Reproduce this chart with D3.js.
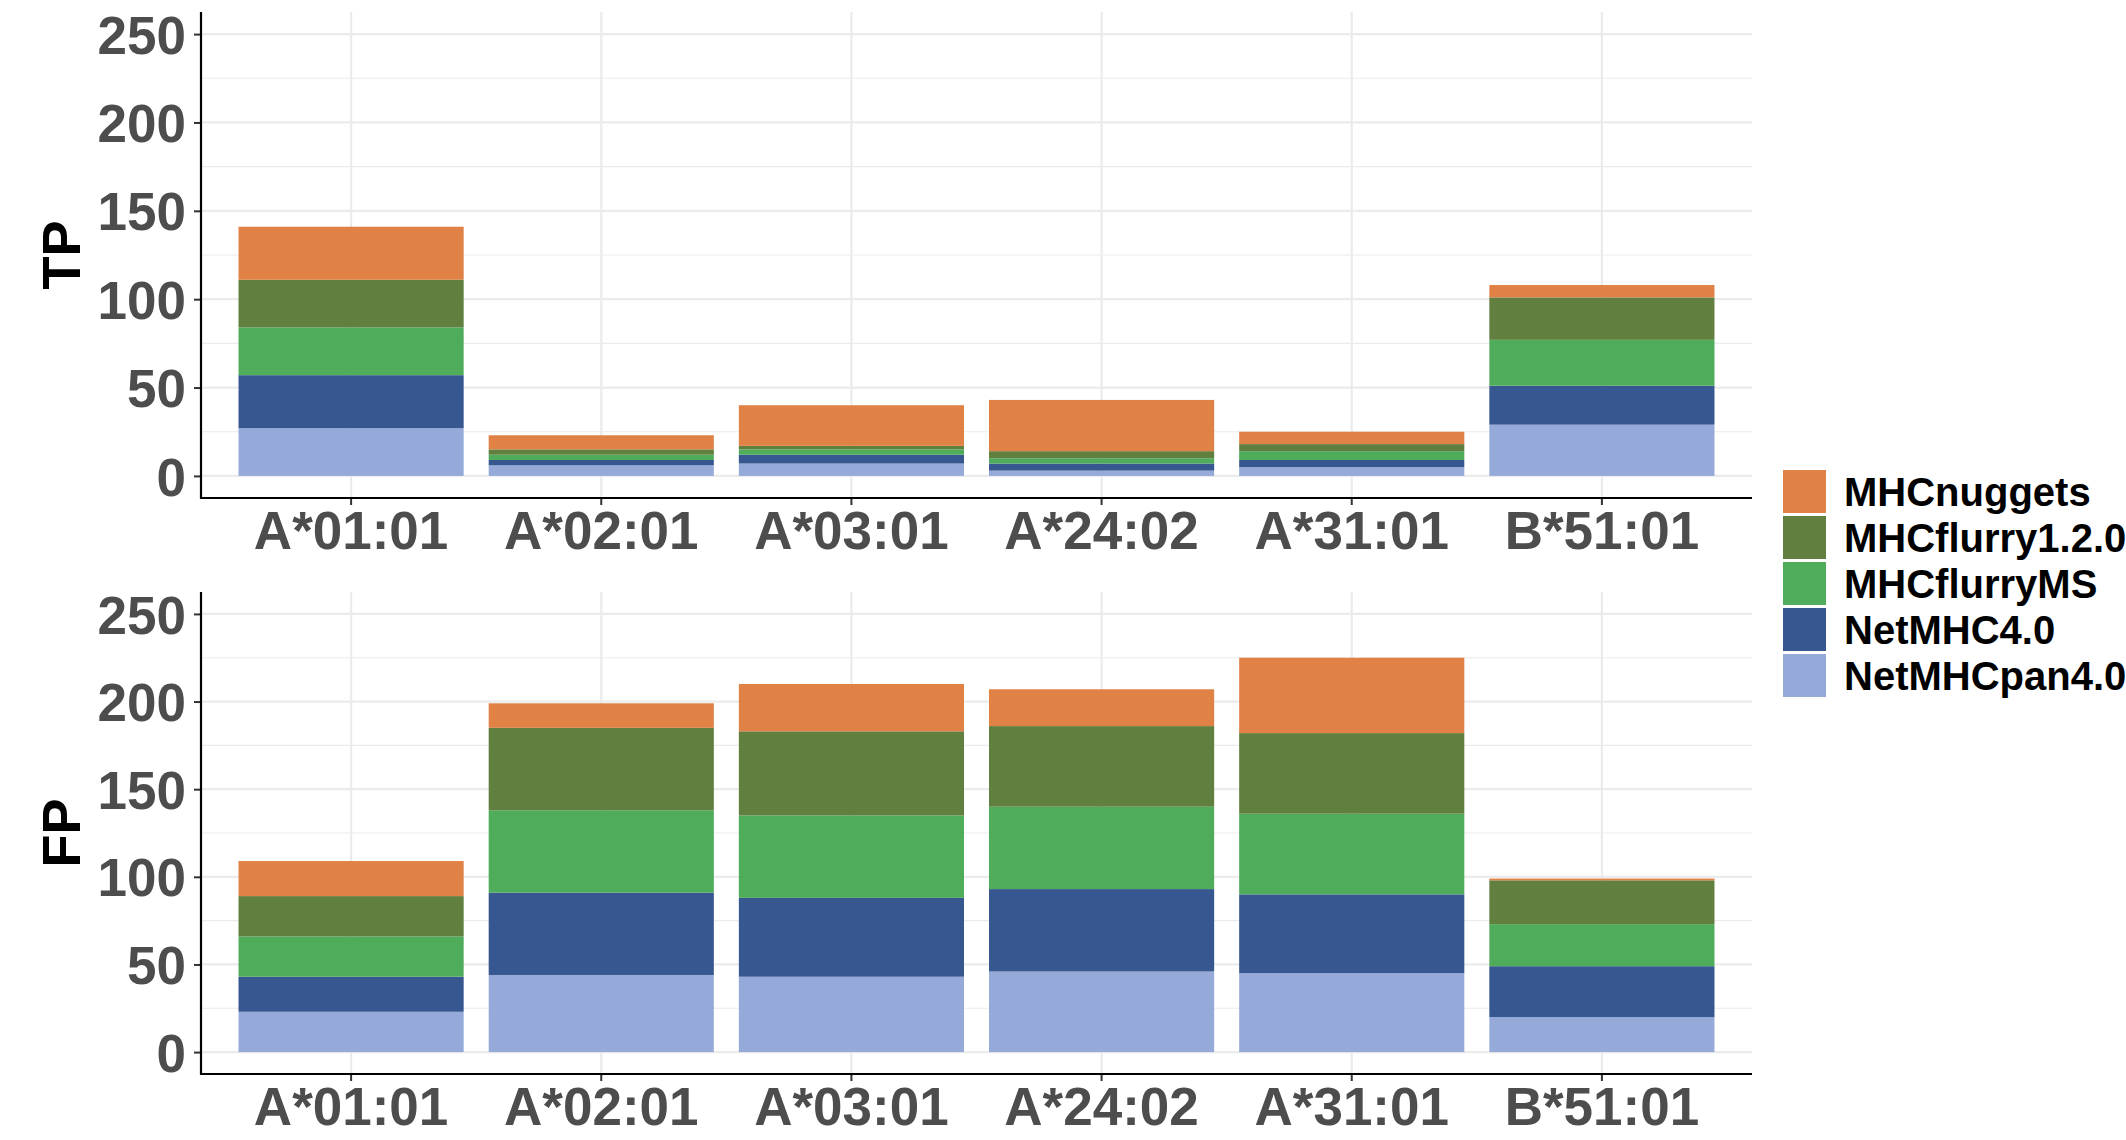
<!DOCTYPE html>
<html>
<head>
<meta charset="utf-8">
<script src="https://cdn.jsdelivr.net/npm/d3@7"></script>
<style>
  html, body { margin: 0; padding: 0; background: #fff; }
  svg { display: block; font-family: "Liberation Sans", Arial, sans-serif; font-weight: bold; }
</style>
</head>
<body>
<svg id="chart" width="2126" height="1140"></svg>
<script>
// alleles on the x axis
const alleles = ["A*01:01", "A*02:01", "A*03:01", "A*24:02", "A*31:01", "B*51:01"];

// methods, bottom of the stack first
const methods = ["NetMHCpan4.0", "NetMHC4.0", "MHCflurryMS", "MHCflurry1.2.0", "MHCnuggets"];
const methodColors = ["#95aad8", "#36578f", "#4fac5b", "#617f3f", "#e08146"];

// true positives per allele
const tpNetMHCpan = [27, 6, 7, 3, 5, 29];
const tpNetMHC = [30, 3, 5, 4, 4, 22];
const tpFlurryMS = [27, 3, 3, 3, 5, 26];
const tpFlurry12 = [27, 3, 2, 4, 4, 24];
const tpNuggets = [30, 8, 23, 29, 7, 7];

// false positives per allele
const fpNetMHCpan = [23, 44, 43, 46, 45, 20];
const fpNetMHC = [20, 47, 45, 47, 45, 29];
const fpFlurryMS = [23, 47, 47, 47, 46, 24];
const fpFlurry12 = [23, 47, 48, 46, 46, 25];
const fpNuggets = [20, 14, 27, 21, 43, 1];

const yTicks = [0, 50, 100, 150, 200, 250];
const yMinor = [25, 75, 125, 175, 225];

const svg = d3.select("#chart");
const color = d3.scaleOrdinal().domain(methods).range(methodColors);

const x = d3.scaleBand()
  .domain(alleles)
  .range([201, 1752])
  .paddingInner(0.1)
  .paddingOuter(0.15);

function buildRows(series) {
  return alleles.map((a, i) => {
    const row = { allele: a };
    methods.forEach((m, j) => { row[m] = series[j][i]; });
    return row;
  });
}

function drawPanel(rows, title, top, bottom) {
  const y = d3.scaleLinear().domain([-12.5, 262.5]).range([bottom, top]);
  const g = svg.append("g");

  // grid
  g.selectAll(".minor").data(yMinor).enter().append("line")
    .attr("x1", 201).attr("x2", 1752)
    .attr("y1", d => y(d)).attr("y2", d => y(d))
    .attr("stroke", "#ebebeb").attr("stroke-width", 1.2);
  g.selectAll(".major").data(yTicks).enter().append("line")
    .attr("x1", 201).attr("x2", 1752)
    .attr("y1", d => y(d)).attr("y2", d => y(d))
    .attr("stroke", "#ebebeb").attr("stroke-width", 2.2);
  g.selectAll(".vgrid").data(alleles).enter().append("line")
    .attr("x1", d => x(d) + x.bandwidth() / 2).attr("x2", d => x(d) + x.bandwidth() / 2)
    .attr("y1", top).attr("y2", bottom)
    .attr("stroke", "#ebebeb").attr("stroke-width", 2.2);

  // stacked bars
  const stacked = d3.stack().keys(methods)(rows);
  g.selectAll(".layer").data(stacked).enter().append("g")
    .attr("fill", d => color(d.key))
    .selectAll("rect").data(d => d).enter().append("rect")
    .attr("x", d => x(d.data.allele))
    .attr("width", x.bandwidth())
    .attr("y", d => y(d[1]))
    .attr("height", d => y(d[0]) - y(d[1]));

  // axes
  const yAxis = g.append("g").attr("transform", "translate(201,0)")
    .call(d3.axisLeft(y).tickValues(yTicks).tickSize(7).tickPadding(8));
  const xAxis = g.append("g").attr("transform", `translate(0,${bottom})`)
    .call(d3.axisBottom(x).tickSize(7).tickPadding(6));
  [yAxis, xAxis].forEach(ax => {
    ax.select(".domain").remove();
    ax.selectAll(".tick line").attr("stroke", "#333").attr("stroke-width", 2);
    ax.selectAll(".tick text")
      .attr("fill", "#4d4d4d")
      .style("font-size", "53px")
      .style("font-weight", "bold")
      .style("font-family", "'Liberation Sans', Arial, sans-serif");
  });
  yAxis.selectAll(".tick text").attr("dy", "0.36em");

  g.append("line").attr("x1", 201).attr("x2", 201).attr("y1", top).attr("y2", bottom + 1)
    .attr("stroke", "#000").attr("stroke-width", 2.2);
  g.append("line").attr("x1", 200).attr("x2", 1752).attr("y1", bottom).attr("y2", bottom)
    .attr("stroke", "#000").attr("stroke-width", 2.2);

  // axis title
  g.append("text")
    .attr("transform", `translate(80,${(top + bottom) / 2}) rotate(-90)`)
    .attr("text-anchor", "middle")
    .style("font-size", "54px")
    .attr("fill", "#000")
    .text(title);
}

drawPanel(buildRows([tpNetMHCpan, tpNetMHC, tpFlurryMS, tpFlurry12, tpNuggets]), "TP", 12, 498);
drawPanel(buildRows([fpNetMHCpan, fpNetMHC, fpFlurryMS, fpFlurry12, fpNuggets]), "FP", 592, 1074);

// legend, top entry is the top of the stack
const legendItems = methods.slice().reverse();
const legend = svg.append("g").attr("transform", "translate(1783,470)");
const item = legend.selectAll(".item").data(legendItems).enter().append("g")
  .attr("transform", (d, i) => `translate(0,${i * 46})`);
item.append("rect").attr("width", 43).attr("height", 43).attr("fill", d => color(d));
item.append("text")
  .attr("x", 61).attr("y", 21.5).attr("dy", "0.36em")
  .style("font-size", "40px")
  .attr("fill", "#000")
  .text(d => d);
</script>
</body>
</html>
